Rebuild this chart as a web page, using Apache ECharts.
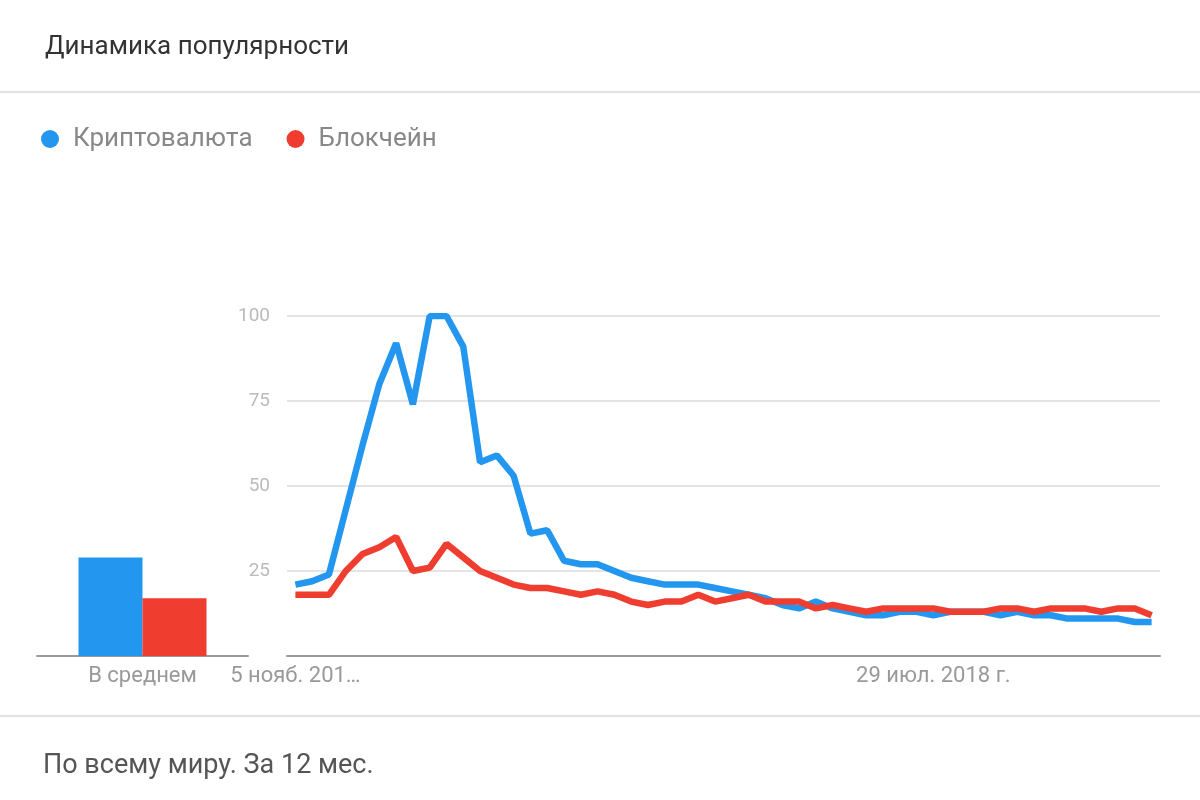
<!DOCTYPE html>
<html>
<head>
<meta charset="utf-8">
<script src="https://cdn.jsdelivr.net/npm/echarts@6/dist/echarts.min.js"></script>
<style>
html,body{margin:0;padding:0;background:#fff;}
#chart{width:1200px;height:800px;}
</style>
</head>
<body>
<div id="chart"></div>
<script type="text/javascript">
// недели с 5 нояб. 2017 (52 точки)
var weeks = [];
for (var i = 0; i < 52; i++) {
	var d = new Date(2017, 10, 5 + i * 7);
	weeks.push(d.getFullYear() + "-" + (d.getMonth() + 1) + "-" + d.getDate());
}
var tickLabels = {0: "5 нояб. 201…", 38: "29 июл. 2018 г."};
var yTicks = [25, 50, 75, 100];

var cryptoValues = [21, 22, 24, 43, 62, 80, 92, 74, 100, 100, 91, 57, 59, 53, 36, 37,
	28, 27, 27, 25, 23, 22, 21, 21, 21, 20, 19, 18, 17, 15, 14, 16,
	14, 13, 12, 12, 13, 13, 12, 13, 13, 13, 12, 13, 12, 12, 11, 11,
	11, 11, 10, 10];
var blockchainValues = [18, 18, 18, 25, 30, 32, 35, 25, 26, 33, 29, 25, 23, 21, 20, 20,
	19, 18, 19, 18, 16, 15, 16, 16, 18, 16, 17, 18, 16, 16, 16, 14,
	15, 14, 13, 14, 14, 14, 14, 13, 13, 13, 14, 14, 13, 14, 14, 14,
	13, 14, 14, 12];
var avgCategories = ["В среднем"];
var avgCrypto = [29];
var avgBlockchain = [17];

var blue = "#2396ef";
var red = "#ef3d2f";

var chart = echarts.init(document.getElementById("chart"));
var option = {
	animation: false,
	textStyle: {fontFamily: "Roboto"},
	title: {
		text: "Динамика популярности",
		left: 40, top: 29,
		textStyle: {fontSize: 26, fontWeight: "normal", color: "#333", fontFamily: "Roboto"}
	},
	legend: {
		left: 36, top: 121,
		icon: "circle",
		itemWidth: 18, itemHeight: 18, itemGap: 34,
		textStyle: {fontSize: 26, color: "#888", fontFamily: "Roboto", padding: [0, 0, 0, 9]},
		data: ["Криптовалюта", "Блокчейн"]
	},
	graphic: [
		{type: "line", shape: {x1: 0, y1: 92, x2: 1200, y2: 92}, style: {stroke: "#e2e2e2", lineWidth: 2}},
		{type: "line", shape: {x1: 0, y1: 716, x2: 1200, y2: 716}, style: {stroke: "#e2e2e2", lineWidth: 2}},
		{type: "text", left: 43, top: 753,
			style: {text: "По всему миру. За 12 мес.", fontSize: 27, fill: "#555", fontFamily: "Roboto"}}
	],
	grid: [
		{left: 37, width: 211, top: 316, bottom: 144},
		{left: 287, right: 40, top: 316, bottom: 144}
	],
	xAxis: [
		{
			gridIndex: 0, type: "category", data: avgCategories,
			axisLine: {lineStyle: {color: "#999", width: 2}},
			axisTick: {show: false},
			axisLabel: {color: "#999", fontSize: 22, margin: 9}
		},
		{
			gridIndex: 1, type: "category", data: weeks, boundaryGap: true,
			axisLine: {lineStyle: {color: "#999", width: 2}},
			axisTick: {show: false},
			axisLabel: {
				color: "#999", fontSize: 22, margin: 9,
				interval: function (idx) { return tickLabels[idx] !== undefined; },
				formatter: function (v, idx) { return tickLabels[idx] || ""; }
			}
		}
	],
	yAxis: [
		{gridIndex: 0, type: "value", min: 0, max: 100, show: false},
		{
			gridIndex: 1, type: "value", min: 0, max: 100, interval: 25,
			axisLine: {show: false}, axisTick: {show: false},
			axisLabel: {
				color: "#bbb", fontSize: 19, margin: 17,
				formatter: function (v) { return yTicks.indexOf(v) >= 0 ? String(v) : ""; }
			},
			splitLine: {lineStyle: {color: "#e4e4e4", width: 2}}
		}
	],
	series: [
		{name: "Криптовалюта", type: "bar", xAxisIndex: 0, yAxisIndex: 0, data: avgCrypto,
			barWidth: 64, barGap: "0%", itemStyle: {color: blue}},
		{name: "Блокчейн", type: "bar", xAxisIndex: 0, yAxisIndex: 0, data: avgBlockchain,
			barWidth: 64, barGap: "0%", itemStyle: {color: red}},
		{name: "Криптовалюта", type: "line", xAxisIndex: 1, yAxisIndex: 1, data: cryptoValues,
			showSymbol: false, lineStyle: {color: blue, width: 6.5}, itemStyle: {color: blue}},
		{name: "Блокчейн", type: "line", xAxisIndex: 1, yAxisIndex: 1, data: blockchainValues,
			showSymbol: false, lineStyle: {color: red, width: 6.5}, itemStyle: {color: red}}
	]
};
chart.setOption(option);
</script>
</body>
</html>
